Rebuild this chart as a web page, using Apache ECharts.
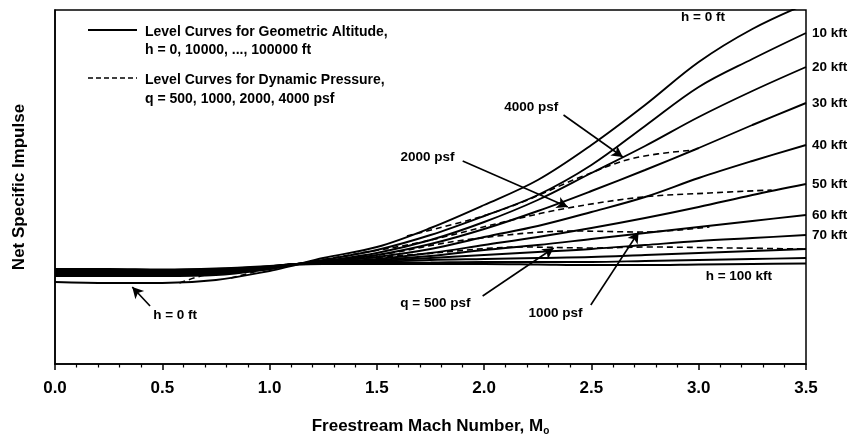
<!DOCTYPE html>
<html><head><meta charset="utf-8">
<script src="https://cdn.jsdelivr.net/npm/echarts@6/dist/echarts.min.js"></script>
<style>html,body{margin:0;padding:0;background:#fff}#c{width:853px;height:441px}</style>
</head><body><div id="c"></div>
<script>
// Mach number grid (x)
const mach = [0, 0.25, 0.5, 0.75, 1.0, 1.1, 1.25, 1.5, 1.75, 2.0, 2.25, 2.5, 2.75, 3.0, 3.25, 3.5];
// Net specific impulse (arbitrary units) for each geometric altitude
const h0   = [82, 81, 81, 84, 93, 98, 106, 117, 136, 159, 184, 219, 259, 302, 335, 360];
const h10  = [88, 88, 88, 89, 95, 99, 104, 114, 129, 148, 169, 199, 238, 277, 305, 331];
const h20  = [89, 89, 89, 90, 95, 99, 103, 111, 124, 142, 164, 191, 218, 247, 273, 297];
const h30  = [90, 90, 90, 91, 96, 99.5, 102.5, 109, 120, 135, 153, 173, 194, 216, 239, 261];
const h40  = [91, 91, 91, 92, 96, 99.5, 102, 107, 115, 127, 138, 152, 167, 186, 203, 219];
const h50  = [92, 92, 92, 93, 96.5, 99.5, 101.5, 105, 111, 119, 127, 136, 146, 157, 169, 180];
const h60  = [93, 93, 92.5, 93.5, 97, 99.5, 101, 104, 108, 114, 119, 125, 131, 137, 143, 149];
const h70  = [93.5, 93.5, 93, 94, 97, 99.5, 101, 103, 106, 109, 112, 115, 119, 123, 126, 129];
const h80  = [94, 94, 93.5, 94.5, 97.5, 99.5, 100.5, 102, 104, 105, 106, 107, 109, 111, 113, 115];
const h90  = [94.5, 94.5, 94, 95, 97.5, 99.5, 100, 101, 101.5, 102, 102, 102, 103, 104, 105, 106];
const h100 = [95, 95, 94.5, 95.5, 98, 99.5, 100, 100, 100, 100, 99.5, 99, 99, 99.5, 100, 100.5];
const altitudeSeries = [h0, h10, h20, h30, h40, h50, h60, h70, h80, h90, h100];
const altitudeEndLabels = ['', '10 kft', '20 kft', '30 kft', '40 kft', '50 kft', '60 kft', '70 kft', '', '', ''];

// Dynamic pressure level curves: [Mach, impulse]
const q500  = [[0.58, 81], [0.70, 89], [0.86, 92], [1.07, 99], [1.35, 104], [1.71, 110], [2.18, 117], [2.50, 116], [2.77, 117], [3.15, 116], [3.50, 115]];
const q1000 = [[0.82, 86], [0.99, 95], [1.21, 102], [1.51, 109], [1.91, 124], [2.42, 133], [2.74, 132], [3.05, 137]];
const q2000 = [[1.16, 101], [1.40, 110], [1.71, 122], [2.13, 144], [2.39, 156], [2.74, 167], [3.05, 171], [3.34, 174]];
const q4000 = [[1.64, 128], [1.98, 147], [2.19, 163], [2.45, 187], [2.70, 206], [2.98, 214]];
const pressureSeries = [q500, q1000, q2000, q4000];

// x-axis tick labels
const xTicks = [0, 0.5, 1.0, 1.5, 2.0, 2.5, 3.0, 3.5];

// annotations: text, text position, arrow start, arrow tip (data coords)
const annotations = [
  {text: '4000 psf', at: [2.22, 257], from: [2.37, 249], to: [2.646, 207]},
  {text: '2000 psf', at: [1.736, 207], from: [1.90, 203], to: [2.39, 157]},
  {text: '1000 psf', at: [2.333, 51], from: [2.497, 59], to: [2.72, 132]},
  {text: 'q = 500 psf', at: [1.773, 61], from: [1.993, 68], to: [2.324, 116]},
  {text: 'h = 0 ft', at: [0.56, 49], from: [0.443, 58], to: [0.36, 77]},
  {text: 'h = 0 ft', at: [3.02, 347]},
  {text: 'h = 100 kft', at: [3.187, 88]}
];

const FONT = '"Liberation Sans", Arial, sans-serif';
const chart = echarts.init(document.getElementById('c'), null, {renderer: 'canvas'});

const series = [];
altitudeSeries.forEach((vals, i) => {
  const s = {
    type: 'line', name: 'alt' + i, data: mach.map((m, k) => [m, vals[k]]),
    smooth: 0.35, showSymbol: false, symbol: 'none', clip: true,
    lineStyle: {color: '#000', width: 1.9}, z: 3, silent: true
  };
  if (altitudeEndLabels[i]) {
    s.endLabel = {show: true, formatter: altitudeEndLabels[i], distance: 6, color: '#000',
      fontFamily: FONT, fontWeight: 'bold', fontSize: 13.5};
  }
  series.push(s);
});
pressureSeries.forEach((pts, i) => {
  series.push({
    type: 'line', name: 'q' + i, data: pts, smooth: 0.35, showSymbol: false, symbol: 'none',
    lineStyle: {color: '#000', width: 1.6, type: [6, 4]}, z: 4, silent: true
  });
});
series.push({
  type: 'line', name: 'annot', data: [], silent: true, z: 6,
  markLine: {
    silent: true, symbol: ['none', 'arrow'], symbolSize: [9, 11], animation: false,
    lineStyle: {color: '#000', width: 1.6, type: 'solid'}, label: {show: false},
    data: annotations.filter(a => a.from).map(a => [{coord: a.from}, {coord: a.to}])
  },
  markPoint: {
    silent: true, symbol: 'circle', symbolSize: 1, itemStyle: {color: 'rgba(0,0,0,0)'}, animation: false,
    label: {show: true, position: 'inside', color: '#000', fontFamily: FONT, fontWeight: 'bold', fontSize: 13.5},
    data: annotations.map(a => ({coord: a.at, value: 0, label: {formatter: a.text}}))
  }
});

chart.setOption({
  animation: false,
  backgroundColor: '#fff',
  grid: {left: 55, right: 47, top: 10, bottom: 77, show: true, borderColor: '#000', borderWidth: 1.5},
  xAxis: {
    type: 'value', min: 0, max: 3.5, interval: 0.5,
    name: 'Freestream Mach Number, M{s|o}', nameLocation: 'middle', nameGap: 52,
    nameTextStyle: {color: '#000', fontFamily: FONT, fontWeight: 'bold', fontSize: 17,
      rich: {s: {fontSize: 10, fontWeight: 'bold', fontFamily: FONT, color: '#000', padding: [10, 0, 0, 0]}}},
    axisLine: {lineStyle: {color: '#000', width: 1.5}},
    axisTick: {show: true, length: 6, lineStyle: {color: '#000', width: 1.5}},
    minorTick: {show: true, splitNumber: 5, length: 3.5, lineStyle: {color: '#000', width: 1.2}},
    splitLine: {show: false},
    axisLabel: {margin: 16, color: '#000', fontFamily: FONT, fontWeight: 'bold', fontSize: 17,
      formatter: v => xTicks.includes(v) ? v.toFixed(1) : ''}
  },
  yAxis: {
    type: 'value', min: 0, max: 354,
    name: 'Net Specific Impulse', nameLocation: 'middle', nameGap: 27, nameRotate: 90,
    nameTextStyle: {color: '#000', fontFamily: FONT, fontWeight: 'bold', fontSize: 17},
    axisLine: {show: true, lineStyle: {color: '#000', width: 1.5}},
    axisTick: {show: false}, axisLabel: {show: false}, splitLine: {show: false}
  },
  graphic: [
    {type: 'line', shape: {x1: 88, y1: 30, x2: 137, y2: 30}, style: {stroke: '#000', lineWidth: 1.8}},
    {type: 'line', shape: {x1: 88, y1: 78, x2: 137, y2: 78}, style: {stroke: '#000', lineWidth: 1.6, lineDash: [5, 3]}},
    {type: 'text', left: 145, top: 23, style: {text: 'Level Curves for Geometric Altitude,\nh = 0, 10000, ..., 100000 ft',
      fill: '#000', font: 'bold 14px ' + FONT, lineHeight: 18}},
    {type: 'text', left: 145, top: 71, style: {text: 'Level Curves for Dynamic Pressure,\nq = 500, 1000, 2000, 4000 psf',
      fill: '#000', font: 'bold 14px ' + FONT, lineHeight: 19}}
  ],
  series: series
});
</script></body></html>
